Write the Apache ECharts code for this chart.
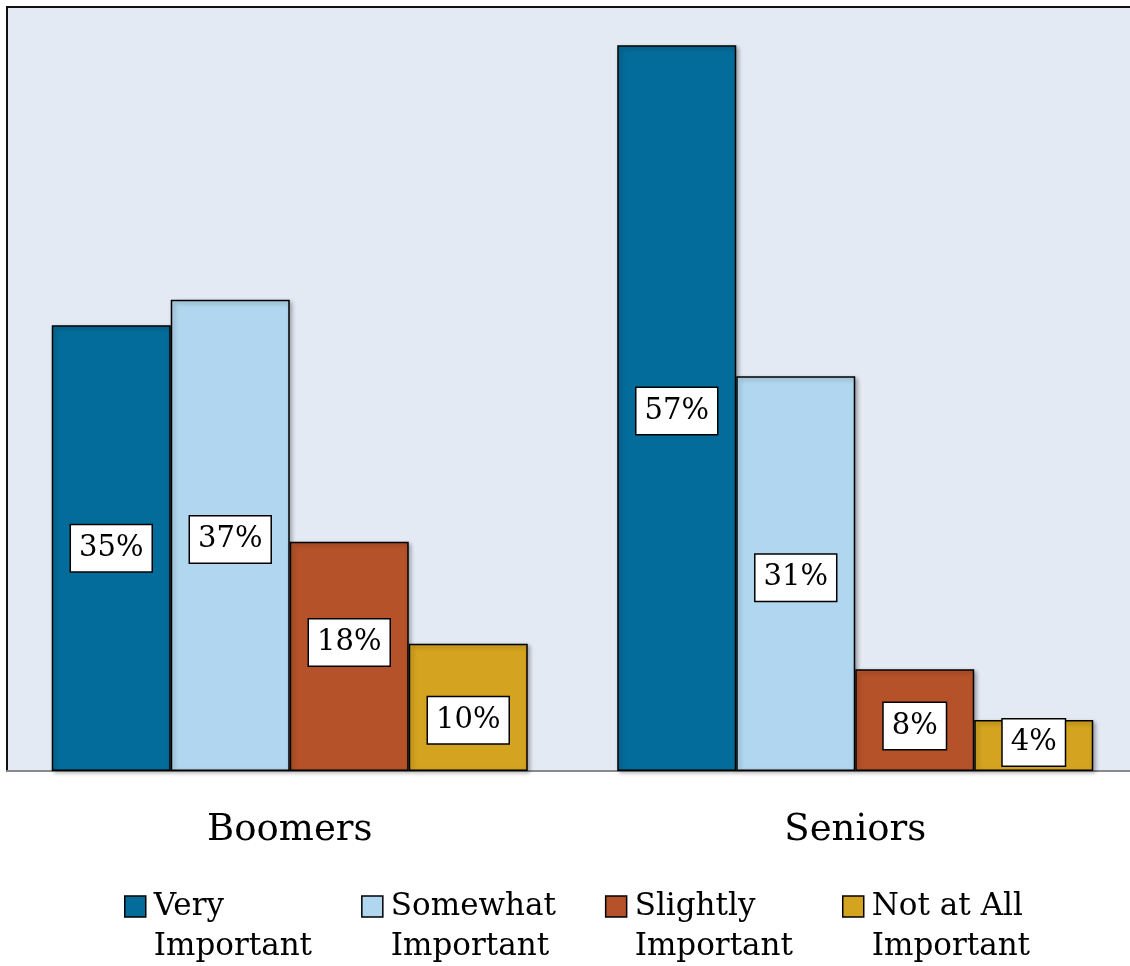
<!DOCTYPE html>
<html><head><meta charset="utf-8">
<script src="https://cdn.jsdelivr.net/npm/echarts@6/dist/echarts.min.js"></script>
<style>html,body{margin:0;padding:0;background:#fff}#c{width:1130px;height:966px}</style>
</head><body><div id="c"></div>
<script>
const categories = ['Boomers', 'Seniors'];
const seriesNames = ['Very\nImportant', 'Somewhat\nImportant', 'Slightly\nImportant', 'Not at All\nImportant'];
const veryImportant = [35, 57];
const somewhatImportant = [37, 31];
const slightlyImportant = [18, 8];
const notAtAllImportant = [10, 4];
const labelShift = [[0, 3], [4, 4], [-14, 6], [13, -3]];
const colors = ['#046C9A', '#B0D7EF', '#B5522A', '#D4A31F'];
const values = [veryImportant, somewhatImportant, slightlyImportant, notAtAllImportant];
const FONT = 'DejaVu Serif';

const chart = echarts.init(document.getElementById('c'), null, {renderer: 'canvas'});
const series = values.map((vals, i) => ({
  name: seriesNames[i],
  type: 'bar',
  barWidth: 119,
  barGap: '0%',
  data: vals.map((v, j) => ({value: v, label: {offset: [0, labelShift[i][j]]}})),
  itemStyle: {color: colors[i], borderColor: '#000', borderWidth: 1.5,
    shadowBlur: 4, shadowColor: 'rgba(0,0,0,0.3)', shadowOffsetX: 2, shadowOffsetY: 2},
  label: {show: true, position: 'inside', formatter: '{c}%', fontFamily: FONT, fontSize: 29,
    color: '#000', backgroundColor: '#fff', borderColor: '#000', borderWidth: 1.5,
    padding: [6, 8, 5, 8], lineHeight: 35}
}));
chart.setOption({
  animation: false,
  color: colors,
  grid: {left: 7, top: 7, width: 1131, bottom: 195, show: true, backgroundColor: '#E3EAF4',
    borderColor: '#111', borderWidth: 2, containLabel: false, outerBoundsMode: 'none'},
  xAxis: {type: 'category', data: categories,
    axisLine: {show: true, lineStyle: {color: '#8a8a8a', width: 2}},
    axisTick: {show: false},
    axisLabel: {fontFamily: FONT, fontSize: 37, color: '#000', margin: 41}},
  yAxis: {type: 'value', min: 0, max: 60, show: false, splitLine: {show: false}},
  legend: {left: 119, top: 882, itemGap: 49, itemWidth: 21, itemHeight: 62,
    icon: 'path://M0,0 H21 V21 H0 Z M0,62',
    itemStyle: {borderColor: '#000', borderWidth: 1.5},
    textStyle: {fontFamily: FONT, fontSize: 31, color: '#000', lineHeight: 40, padding: [0, 0, 0, 3]},
    data: seriesNames},
  series: series
});
</script></body></html>
